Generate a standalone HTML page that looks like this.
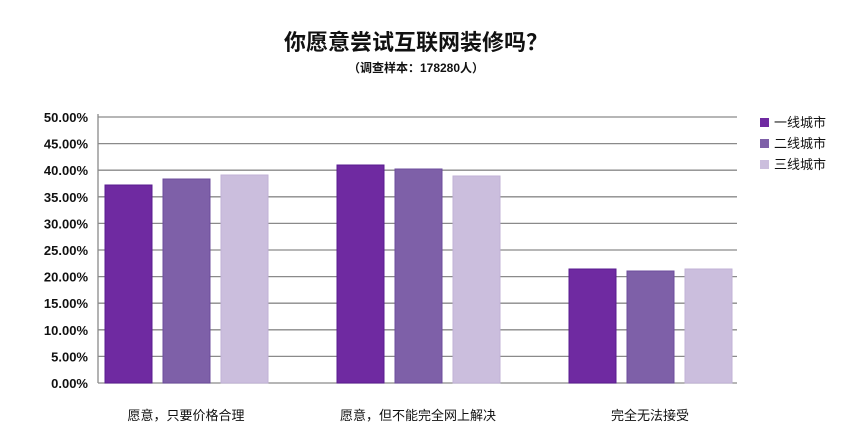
<!DOCTYPE html>
<html><head><meta charset="utf-8"><style>
body{margin:0;background:#fff;}
text{font-family:"Liberation Sans","Noto Sans CJK SC",sans-serif;}
</style></head><body>
<svg width="850" height="432" xmlns="http://www.w3.org/2000/svg">
<rect width="850" height="432" fill="#fff"/>
<text x="416" y="50" text-anchor="middle" font-size="22" font-weight="bold" fill="#111">你愿意尝试互联网装修吗？</text>
<text x="416" y="72" text-anchor="middle" font-size="12" font-weight="bold" fill="#111">（调查样本：178280人）</text>
<g stroke="#8a8a8a" stroke-width="1.3">
<line x1="98" y1="117" x2="737" y2="117"/>
<line x1="98" y1="143.6" x2="737" y2="143.6"/>
<line x1="98" y1="170.2" x2="737" y2="170.2"/>
<line x1="98" y1="196.8" x2="737" y2="196.8"/>
<line x1="98" y1="223.4" x2="737" y2="223.4"/>
<line x1="98" y1="250" x2="737" y2="250"/>
<line x1="98" y1="276.6" x2="737" y2="276.6"/>
<line x1="98" y1="303.2" x2="737" y2="303.2"/>
<line x1="98" y1="329.8" x2="737" y2="329.8"/>
<line x1="98" y1="356.4" x2="737" y2="356.4"/>
<line x1="98" y1="383" x2="737" y2="383"/>
<line x1="98" y1="114" x2="98" y2="383"/>
</g>
<g font-size="13" font-weight="bold" fill="#111" text-anchor="end">
<text x="88" y="122">50.00%</text><text x="88" y="148.6">45.00%</text><text x="88" y="175.2">40.00%</text>
<text x="88" y="201.8">35.00%</text><text x="88" y="228.4">30.00%</text><text x="88" y="255">25.00%</text>
<text x="88" y="281.6">20.00%</text><text x="88" y="308.2">15.00%</text><text x="88" y="334.8">10.00%</text>
<text x="88" y="361.4">5.00%</text><text x="88" y="388">0.00%</text>
</g>
<g stroke-width="1">
<rect x="105" y="185" width="47" height="198" fill="#6f2aa1" stroke="#5a1c90"/>
<rect x="163" y="179" width="47" height="204" fill="#7e60a8" stroke="#6c4c9c"/>
<rect x="221" y="175" width="47" height="208" fill="#cbbedd" stroke="#c0b2d6"/>
<rect x="337" y="165" width="47" height="218" fill="#6f2aa1" stroke="#5a1c90"/>
<rect x="395" y="169" width="47" height="214" fill="#7e60a8" stroke="#6c4c9c"/>
<rect x="453" y="176" width="47" height="207" fill="#cbbedd" stroke="#c0b2d6"/>
<rect x="569" y="269" width="47" height="114" fill="#6f2aa1" stroke="#5a1c90"/>
<rect x="627" y="271" width="47" height="112" fill="#7e60a8" stroke="#6c4c9c"/>
<rect x="685" y="269" width="47" height="114" fill="#cbbedd" stroke="#c0b2d6"/>
</g>
<g font-size="13" fill="#111" text-anchor="middle">
<text x="186" y="420">愿意，只要价格合理</text>
<text x="418" y="420">愿意，但不能完全网上解决</text>
<text x="650" y="420">完全无法接受</text>
</g>
<g font-size="13" fill="#111">
<rect x="760" y="118" width="9" height="9" fill="#6f2aa1"/><text x="774" y="127">一线城市</text>
<rect x="760" y="139" width="9" height="9" fill="#7e60a8"/><text x="774" y="148">二线城市</text>
<rect x="760" y="160" width="9" height="9" fill="#cbbedd"/><text x="774" y="169">三线城市</text>
</g>
</svg>
</body></html>
